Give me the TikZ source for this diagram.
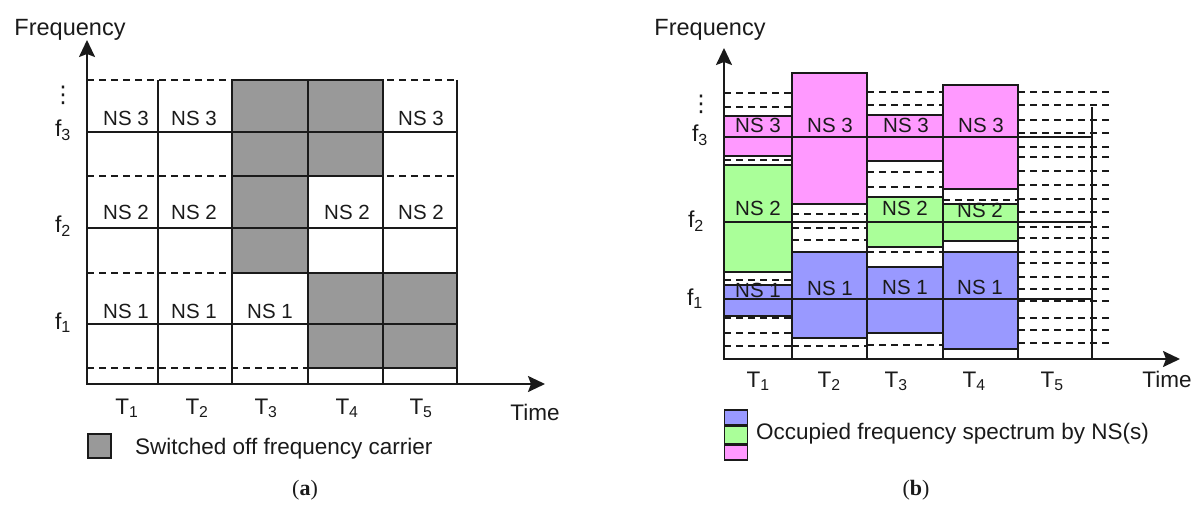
\documentclass[tikz,border=0pt]{standalone}
\usepackage{fontspec}
\setmainfont{Liberation Sans}
\newfontfamily\capfont{Liberation Serif}
\newfontfamily\symfont{DejaVu Sans}
\usetikzlibrary{arrows.meta}
\definecolor{ink}{HTML}{1A1A1A}
\definecolor{offgray}{HTML}{999999}
\definecolor{nspink}{HTML}{FF99FF}
\definecolor{nsgreen}{HTML}{AAFF99}
\definecolor{nsblue}{HTML}{9999FF}

\begin{document}
\begin{tikzpicture}[x=1pt,y=-1pt,
  every node/.style={inner sep=0pt, text=ink},
  lbl/.style={font=\fontsize{22.5}{26}\selectfont, anchor=base},
  biglbl/.style={font=\fontsize{23.5}{27}\selectfont, anchor=base},
  nslbl/.style={font=\fontsize{20.5}{24}\selectfont, anchor=base},
  flbl/.style={font=\fontsize{23}{27}\selectfont, anchor=base},
  caplbl/.style={font=\capfont\fontsize{22}{26}\selectfont, anchor=base},
  dotlbl/.style={font=\symfont\fontsize{23}{27}\selectfont},
  axis/.style={line width=2pt, draw=ink,
    {Stealth[length=17pt,width=16pt,inset=3pt]}-{Stealth[length=17pt,width=16pt,inset=3pt]}},
  gridline/.style={line width=1.6pt, draw=ink},
  dashline/.style={line width=2pt, draw=ink, dash pattern=on 7pt off 5pt},
  cell/.style={line width=1.6pt, draw=ink},
  keybox/.style={draw=ink, line width=1.6pt, minimum width=23pt, inner sep=0pt},
]
\useasboundingbox (0,0) rectangle (1199,505);

% ================= (a) carriers switched on/off =================
% band boundaries between carriers
\foreach \y in {80,176,273,368}
  \draw[dashline] (87,\y) -- (457,\y);
% switched-off carriers
\foreach \xa/\xb/\ya/\yb in {232/308/80/132, 232/308/132/176, 232/308/176/228,
    232/308/228/273, 308/383/80/132, 308/383/132/176,
    308/383/273/324, 308/383/324/368, 383/457/273/324, 383/457/324/368}
  \draw[cell, fill=offgray] (\xa,\ya) rectangle (\xb,\yb);
% carrier centre lines and time slots
\foreach \y in {132,228,324}
  \draw[gridline] (87,\y) -- (457,\y);
\foreach \x in {158,232,308,383,457}
  \draw[gridline] (\x,80) -- (\x,384);
% axes
\coordinate (ya) at (87,40);
\coordinate (oa) at (87,384);
\coordinate (xa) at (545,384);
\draw[axis] (ya) -- (oa) -- (xa);

\node[biglbl] (freqa) at (70,36) {Frequency};
\node[lbl] (timea) at (535,420) {Time};
\node[dotlbl] (dotsa) at (63,95) {⋮};
\foreach \i/\y in {1/329,2/233,3/137}
  \node[flbl] (fa\i) at (63,\y) {f\textsubscript{\i}};
\foreach \i/\x in {1/127,2/197,3/266,4/347,5/421}
  \node[lbl] (ta\i) at (\x,414) {T\textsubscript{\i}};
\foreach \n/\x/\y/\t in {13/126/126/3, 23/194/126/3, 53/421/126/3,
    12/126/219/2, 22/194/219/2, 42/347/219/2, 52/421/219/2,
    11/126/318/1, 21/194/318/1, 31/270/318/1}
  \node[nslbl] (nsa\n) at (\x,\y) {NS \t};

% legend (a)
\node[keybox, fill=offgray, minimum height=24pt] (keya) at (99.5,446) {};
\node[lbl, anchor=base west] (keytexta) at (135,454) {Switched off frequency carrier};
\node[caplbl] (capa) at (305,495) {(\textbf{a})};

% ================= (b) spectrum occupied per slot =================
% free carriers
\foreach \y in {92,105,120,133,147,157,171,185,199,212,227,238,252,263,277,289,301,318,330,343}
  \draw[dashline] (1018,\y) -- (1113,\y);
\foreach \y in {93,107,160,280,318,333,346}
  \draw[dashline] (724,\y) -- (792,\y);
\foreach \y in {214,228,240,346}
  \draw[dashline] (792,\y) -- (867,\y);
\foreach \y in {92,105,172,187,252,345}
  \draw[dashline] (867,\y) -- (943,\y);
\draw[dashline] (943,200) -- (1018,200);

% occupied spectrum
\foreach \xa/\xb/\ya/\yb/\c in {
    724/792/116/156/nspink, 724/792/165/272/nsgreen, 724/792/285/316/nsblue,
    792/867/73/204/nspink, 792/867/252/338/nsblue,
    867/943/115/161/nspink, 867/943/197/247/nsgreen, 867/943/267/333/nsblue,
    943/1018/85/189/nspink, 943/1018/204/241/nsgreen, 943/1018/252/349/nsblue}
  \draw[cell, fill=\c] (\xa,\ya) rectangle (\xb,\yb);

% carrier centre lines and slot borders
\foreach \y in {137,222,299}
  \draw[gridline] (724,\y) -- (1092,\y);
\foreach \x/\y in {792/73,867/73,943/85,1018/85,1092/107}
  \draw[gridline] (\x,\y) -- (\x,359);
% axes
\coordinate (yb) at (724,48);
\coordinate (ob) at (724,359);
\coordinate (xb) at (1180,359);
\draw[axis] (yb) -- (ob) -- (xb);

\node[biglbl] (freqb) at (710,36) {Frequency};
\node[lbl] (timeb) at (1167,387) {Time};
\node[dotlbl] (dotsb) at (701,104) {⋮};
\node[flbl] (fb3) at (700,142) {f\textsubscript{3}};
\node[flbl] (fb2) at (696,228) {f\textsubscript{2}};
\node[flbl] (fb1) at (695,305) {f\textsubscript{1}};
\foreach \i/\x in {1/758,2/829,3/896,4/974,5/1052}
  \node[lbl] (tb\i) at (\x,387) {T\textsubscript{\i}};
\foreach \n/\x/\y/\t in {13/758/133/3, 12/758/215/2, 11/758/297/1,
    23/830/133/3, 21/830/295/1,
    33/906/133/3, 32/905/215/2, 31/905/294/1,
    43/981/133/3, 42/980/218/2, 41/980/294/1}
  \node[nslbl] (nsb\n) at (\x,\y) {NS \t};

% legend (b)
\node[keybox, fill=nsblue, minimum height=15pt, anchor=north] (keyb1) at (736,409) {};
\node[keybox, fill=nsgreen, minimum height=17pt, anchor=north] (keyb2) at (keyb1.south) {};
\node[keybox, fill=nspink, minimum height=15pt, anchor=north] (keyb3) at (keyb2.south) {};
\node[lbl, anchor=base west] (keytextb) at (756,439) {Occupied frequency spectrum by NS(s)};
\node[caplbl] (capb) at (916,495) {(\textbf{b})};
\end{tikzpicture}
\end{document}
